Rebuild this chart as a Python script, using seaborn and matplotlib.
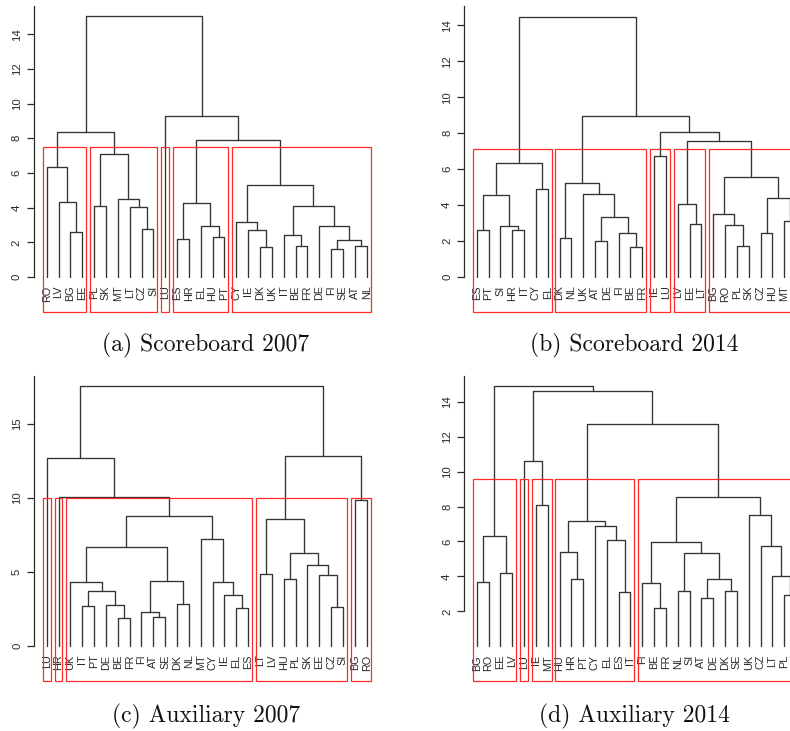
import matplotlib
matplotlib.use("Agg")
import matplotlib.pyplot as plt
from matplotlib.patches import Rectangle
from matplotlib.transforms import offset_copy
import pandas as pd
import seaborn as sns

# ---------------------------------------------------------------------------
# Hierarchical clustering results (Ward trees), one per panel.
# Leaves are listed in dendrogram order; each merge joins two items, where a
# string is a country and an integer refers to an earlier merge.
# ---------------------------------------------------------------------------
sb07_leaves = ["RO", "LV", "BG", "EE", "PL", "SK", "MT", "LT", "CZ", "SI",
               "LU", "ES", "HR", "EL", "HU", "PT", "CY", "IE", "DK", "UK",
               "IT", "BE", "FR", "DE", "FI", "SE", "AT", "NL"]
sb07_merges = [("FI", "SE"), ("DK", "UK"), ("BE", "FR"), ("AT", "NL"), (0, 3),
               ("ES", "HR"), ("HU", "PT"), ("IT", 2), ("BG", "EE"), ("IE", 1),
               ("CZ", "SI"), ("EL", 6), ("DE", 4), ("CY", 9), ("LT", 10),
               ("PL", "SK"), (7, 12), (5, 11), ("LV", 8), ("MT", 14),
               (13, 16), ("RO", 18), (15, 19), (17, 20), (21, 22),
               ("LU", 23), (24, 25)]
sb07_heights = [1.62, 1.71, 1.81, 1.81, 2.12, 2.17, 2.33, 2.42, 2.58, 2.73,
                2.79, 2.96, 2.96, 3.15, 4.06, 4.12, 4.12, 4.27, 4.31, 4.48,
                5.29, 6.35, 7.12, 7.92, 8.35, 9.31, 15.05]

sb14_leaves = ["ES", "PT", "SI", "HR", "IT", "CY", "EL", "DK", "NL", "UK",
               "AT", "DE", "FI", "BE", "FR", "IE", "LU", "LV", "EE", "LT",
               "BG", "RO", "PL", "SK", "CZ", "HU", "MT", "SE"]
sb14_merges = [("BE", "FR"), ("PL", "SK"), ("AT", "DE"), ("DK", "NL"), ("FI", 0),
               ("CZ", "HU"), ("ES", "PT"), ("HR", "IT"), ("SI", 7), ("RO", 1),
               ("EE", "LT"), ("MT", "SE"), (2, 4), ("BG", 9), ("LV", 10),
               (5, 11), (6, 8), ("UK", 12), ("CY", "EL"), (3, 17),
               (13, 15), (16, 18), ("IE", "LU"), (14, 20), (22, 23),
               (19, 24), (21, 25)]
sb14_heights = [1.69, 1.74, 2.00, 2.19, 2.43, 2.43, 2.60, 2.60, 2.86, 2.87,
                2.97, 3.13, 3.32, 3.49, 4.06, 4.39, 4.54, 4.60, 4.90, 5.25,
                5.54, 6.32, 6.71, 7.55, 8.08, 8.97, 14.48]

aux07_leaves = ["LU", "HR", "UK", "IT", "PT", "DE", "BE", "FR", "FI", "AT",
                "SE", "DK", "NL", "MT", "CY", "IE", "EL", "ES", "LT", "LV",
                "HU", "PL", "SK", "EE", "CZ", "SI", "BG", "RO"]
aux07_merges = [("BE", "FR"), ("AT", "SE"), ("FI", 1), ("EL", "ES"), ("CZ", "SI"),
                ("IT", "PT"), ("DE", 0), ("DK", "NL"), ("IE", 3), (5, 6),
                ("UK", 9), ("CY", 8), (2, 7), ("HU", "PL"), ("EE", 4),
                ("LT", "LV"), ("SK", 14), (13, 16), (10, 12), ("MT", 11),
                (15, 17), (18, 19), ("BG", "RO"), ("HR", 21), ("LU", 23),
                (20, 22), (24, 25)]
aux07_heights = [1.89, 1.96, 2.27, 2.55, 2.61, 2.68, 2.79, 2.84, 3.47, 3.69,
                 4.35, 4.35, 4.39, 4.50, 4.82, 4.86, 5.47, 6.26, 6.67, 7.25,
                 8.56, 8.81, 9.89, 10.07, 12.73, 12.82, 17.57]

aux14_leaves = ["BG", "RO", "EE", "LV", "LU", "IE", "MT", "HU", "HR", "PT",
                "CY", "EL", "ES", "IT", "FI", "BE", "FR", "NL", "SI", "AT",
                "DE", "DK", "SE", "UK", "CZ", "LT", "PL", "SK"]
aux14_merges = [("BE", "FR"), ("AT", "DE"), ("PL", "SK"), ("ES", "IT"), ("NL", "SI"),
                ("DK", "SE"), ("FI", 0), ("BG", "RO"), ("HR", "PT"), (1, 5),
                ("LT", 2), ("EE", "LV"), (4, 9), ("HU", 8), ("CZ", 10),
                (6, 12), ("EL", 3), (7, 11), ("CY", 16), (13, 18),
                ("UK", 14), ("IE", "MT"), (15, 20), ("LU", 21), (19, 22),
                (23, 24), (17, 25)]
aux14_heights = [2.17, 2.76, 2.95, 3.12, 3.18, 3.18, 3.60, 3.68, 3.87, 3.87,
                 4.02, 4.19, 5.32, 5.41, 5.76, 5.95, 6.10, 6.33, 6.87, 7.19,
                 7.51, 8.10, 8.54, 10.62, 12.74, 14.59, 14.90]

n_groups = 5
panel_titles = ["(a) Scoreboard 2007", "(b) Scoreboard 2014",
                "(c) Auxiliary 2007", "(d) Auxiliary 2014"]
sb07_yticks = [0, 2, 4, 6, 8, 10, 12, 14]
sb14_yticks = [0, 2, 4, 6, 8, 10, 12, 14]
aux07_yticks = [0, 5, 10, 15]
aux14_yticks = [2, 4, 6, 8, 10, 12, 14]

# ---------------------------------------------------------------------------
sns.set_style("ticks")
plt.rcParams["font.family"] = ["Liberation Sans", "DejaVu Sans"]

W, H = 790, 731
fig = plt.figure(figsize=(W / 100, H / 100), dpi=100)

LINE = "#333333"
RED = "#ff2a2a"
TEXT_SIZE = 7.8


def layout_tree(leaves, merges, heights):
    """Return U-shaped link segments and the leaf span of every merge."""
    pos = {name: i + 1 for i, name in enumerate(leaves)}
    nx, nh, span = [], [], []

    def node(ref):
        if isinstance(ref, str):
            return pos[ref], 0.0, (pos[ref], pos[ref])
        return nx[ref], nh[ref], span[ref]

    rows = []
    for k, ((a, b), h) in enumerate(zip(merges, heights)):
        xa, ha, sa = node(a)
        xb, hb, sb = node(b)
        for xx, yy in zip([xa, xa, xb, xb], [ha, h, h, hb]):
            rows.append({"x": xx, "y": yy, "link": k})
        nx.append((xa + xb) / 2)
        nh.append(h)
        span.append((min(sa[0], sb[0]), max(sa[1], sb[1])))
    return pd.DataFrame(rows), span, pos


def cut_tree(merges, heights, span, pos, k):
    hs = sorted(heights, reverse=True)
    cut = (hs[k - 2] + hs[k - 1]) / 2
    groups = []

    def walk(ref):
        if isinstance(ref, str):
            groups.append((pos[ref], pos[ref]))
        elif heights[ref] < cut:
            groups.append(span[ref])
        else:
            walk(merges[ref][0])
            walk(merges[ref][1])

    walk(len(merges) - 1)
    return cut, groups


def draw_panel(box, leaves, merges, heights, yticks, leaf1_px, step_px,
               zero_px, unit_px):
    left, top, right, bottom = box
    ax = fig.add_axes([left / W, 1 - bottom / H, (right - left) / W,
                       (bottom - top) / H])
    links, span, pos = layout_tree(leaves, merges, heights)
    sns.lineplot(data=links, x="x", y="y", units="link", estimator=None,
                 sort=False, color=LINE, linewidth=0.95, ax=ax, legend=False)

    x0 = 1 - (leaf1_px - left) / step_px
    x1 = 1 + (right - leaf1_px) / step_px
    y1 = (zero_px - top) / unit_px
    y0 = -(bottom - zero_px) / unit_px
    ax.set_xlim(x0, x1)
    ax.set_ylim(y0, y1)
    ax.set_xlabel("")
    ax.set_ylabel("")
    ax.set_xticks([])
    ax.set_yticks(yticks)
    ax.set_yticklabels([str(t) for t in yticks], rotation=90, va="center")
    ax.tick_params(axis="y", length=5.4, width=0.9, pad=3.4,
                   labelsize=8.2, colors="#2a2a2a")
    for s in ["top", "right", "bottom"]:
        ax.spines[s].set_visible(False)
    ax.spines["left"].set_bounds(yticks[0], y1)
    ax.spines["left"].set_linewidth(0.9)
    ax.spines["left"].set_color("#2a2a2a")
    ax.patch.set_visible(False)

    # country labels hang just below the leaves; those past the edge are not drawn
    lab_tr = offset_copy(ax.transData, fig=fig, x=0, y=-8.5, units="dots")
    for name, xpos in pos.items():
        if xpos + 0.4 > x1:
            continue
        ax.text(xpos, 0, name, rotation=90, ha="center", va="top",
                fontsize=TEXT_SIZE, color="#2a2a2a", transform=lab_tr,
                clip_on=False)

    cut, groups = cut_tree(merges, heights, span, pos, n_groups)
    for lo, hi in groups:
        ax.add_patch(Rectangle((lo - 0.34, y0), (hi + 0.33) - (lo - 0.34),
                               cut - y0, fill=False, edgecolor=RED,
                               linewidth=0.9, clip_on=False, zorder=3))
    return ax


draw_panel((34, 6, 380, 312.3), sb07_leaves, sb07_merges, sb07_heights,
           sb07_yticks, 46.7, 11.85, 277.0, 17.336)
draw_panel((464.3, 6, 790, 312.3), sb14_leaves, sb14_merges, sb14_heights,
           sb14_yticks, 476.7, 11.83, 277.0, 17.98)
draw_panel((34.3, 376, 380, 681.3), aux07_leaves, aux07_merges, aux07_heights,
           aux07_yticks, 46.7, 11.85, 646.0, 14.8)
draw_panel((464.3, 376, 790, 681.0), aux14_leaves, aux14_merges, aux14_heights,
           aux14_yticks, 476.7, 11.83, 646.3, 17.47)

for (cx, cy), title in zip([(206, 345), (634, 345), (206, 716), (634, 716)],
                           panel_titles):
    fig.text(cx / W, 1 - cy / H, title, ha="center", va="center",
             fontfamily="cmr10", fontsize=17, color="#111111")

fig.savefig("out.png", dpi=100)
